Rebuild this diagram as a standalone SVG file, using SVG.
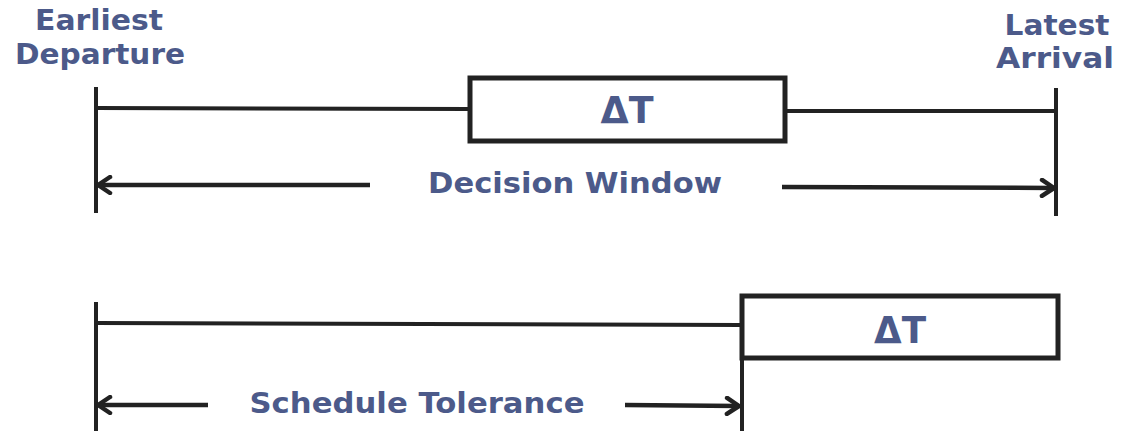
<svg xmlns="http://www.w3.org/2000/svg" width="1121" height="431" viewBox="0 0 1121 431">
<style>
.t{font-family:"DejaVu Sans",Verdana,sans-serif;font-weight:bold;fill:#4c5a8a;font-size:28.5px;text-anchor:middle}
.d{font-size:37px}
.ln{stroke:#222;stroke-width:4;fill:none;stroke-linecap:butt}
.box{stroke:#222;stroke-width:5;fill:#fff}
.ar{stroke:#222;stroke-width:4.5;fill:none}
</style>
<defs>
<marker id="ah" viewBox="0 0 20 20" refX="17" refY="10" markerWidth="20" markerHeight="20" markerUnits="userSpaceOnUse" orient="auto">
<path d="M5,2 L17,10 L5,18" fill="none" stroke="#222" stroke-width="4.5" stroke-linecap="round" stroke-linejoin="round"/>
</marker>
</defs>
<g id="labels">
<text class="t" x="99" y="30" textLength="128" lengthAdjust="spacingAndGlyphs">Earliest</text>
<text class="t" x="100" y="64" textLength="170" lengthAdjust="spacingAndGlyphs">Departure</text>
<text class="t" x="1057" y="35" textLength="105" lengthAdjust="spacingAndGlyphs">Latest</text>
<text class="t" x="1055" y="68" textLength="118" lengthAdjust="spacingAndGlyphs">Arrival</text>
</g>
<g id="connectors">
<line class="ln" x1="96" y1="87" x2="96" y2="213"/>
<line class="ln" x1="1056" y1="88" x2="1056" y2="216"/>
<line class="ln" x1="96" y1="108" x2="470" y2="109"/>
<line class="ln" x1="785" y1="111" x2="1056" y2="111"/>
<line class="ar" x1="370" y1="185" x2="98" y2="185" marker-end="url(#ah)"/>
<line class="ar" x1="782" y1="187" x2="1054" y2="188" marker-end="url(#ah)"/>
<line class="ln" x1="96" y1="302" x2="96" y2="431"/>
<line class="ln" x1="96" y1="323" x2="742" y2="325"/>
<line class="ln" x1="742" y1="358" x2="742" y2="431"/>
<line class="ar" x1="208" y1="405" x2="98" y2="405" marker-end="url(#ah)"/>
<line class="ar" x1="625" y1="405" x2="739" y2="406" marker-end="url(#ah)"/>
</g>
<g id="box1">
<rect class="box" x="470" y="78" width="315" height="63"/>
<text class="t d" x="627" y="123" textLength="53" lengthAdjust="spacingAndGlyphs">ΔT</text>
</g>
<g id="box2">
<rect class="box" x="742" y="296" width="316" height="62"/>
<text class="t d" x="900" y="343" textLength="52" lengthAdjust="spacingAndGlyphs">ΔT</text>
</g>
<g id="decision">
<text class="t" x="575" y="193" textLength="294" lengthAdjust="spacingAndGlyphs">Decision Window</text>
</g>
<g id="tolerance">
<text class="t" x="417" y="413" textLength="335" lengthAdjust="spacingAndGlyphs">Schedule Tolerance</text>
</g>
</svg>
